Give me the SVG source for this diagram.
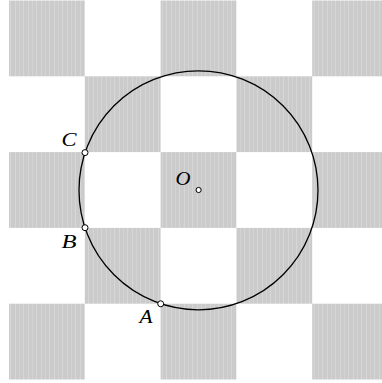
<svg xmlns="http://www.w3.org/2000/svg" width="382" height="383" viewBox="0 0 382 383">
<defs>
<pattern id="hatch" patternUnits="userSpaceOnUse" width="13" height="10">
<rect width="13" height="10" fill="#cbcbcb"/>
<rect x="2" width="1" height="10" fill="#d6d6d6"/>
<rect x="6" width="1" height="10" fill="#d3d3d3"/>
<rect x="10" width="1" height="10" fill="#d7d7d7"/>
</pattern>
</defs>
<style>
.sq{fill:url(#hatch)}
.circ{fill:none;stroke:#000;stroke-width:1.3}
.pt{fill:#fff;stroke:#000;stroke-width:1}
.lbl{font-family:"Liberation Serif",serif;font-style:italic;font-size:19px;fill:#000}
</style>
<g id="board">
<rect class="sq" x="9" y="0.5" width="75.8" height="75.8"/>
<rect class="sq" x="160.6" y="0.5" width="75.8" height="75.8"/>
<rect class="sq" x="312.2" y="0.5" width="69.8" height="75.8"/>
<rect class="sq" x="84.8" y="76.3" width="75.8" height="75.8"/>
<rect class="sq" x="236.4" y="76.3" width="75.8" height="75.8"/>
<rect class="sq" x="9" y="152.1" width="75.8" height="75.8"/>
<rect class="sq" x="160.6" y="152.1" width="75.8" height="75.8"/>
<rect class="sq" x="312.2" y="152.1" width="69.8" height="75.8"/>
<rect class="sq" x="84.8" y="227.9" width="75.8" height="75.8"/>
<rect class="sq" x="236.4" y="227.9" width="75.8" height="75.8"/>
<rect class="sq" x="9" y="303.7" width="75.8" height="75.8"/>
<rect class="sq" x="160.6" y="303.7" width="75.8" height="75.8"/>
<rect class="sq" x="312.2" y="303.7" width="69.8" height="75.8"/>
</g>
<g id="circle">
<circle class="circ" cx="198.5" cy="190.3" r="119.5"/>
</g>
<g id="O">
<circle class="pt" cx="198.6" cy="190" r="2.6"/>
<text class="lbl" x="175.5" y="185" textLength="15" lengthAdjust="spacingAndGlyphs">O</text>
</g>
<g id="C">
<circle class="pt" cx="85" cy="152.6" r="3"/>
<text class="lbl" x="61.5" y="146" textLength="15" lengthAdjust="spacingAndGlyphs">C</text>
</g>
<g id="B">
<circle class="pt" cx="85" cy="227.7" r="3"/>
<text class="lbl" x="61.5" y="248" textLength="15" lengthAdjust="spacingAndGlyphs">B</text>
</g>
<g id="A">
<circle class="pt" cx="160.7" cy="303.8" r="3"/>
<text class="lbl" x="139.5" y="323" textLength="13" lengthAdjust="spacingAndGlyphs">A</text>
</g>
</svg>
